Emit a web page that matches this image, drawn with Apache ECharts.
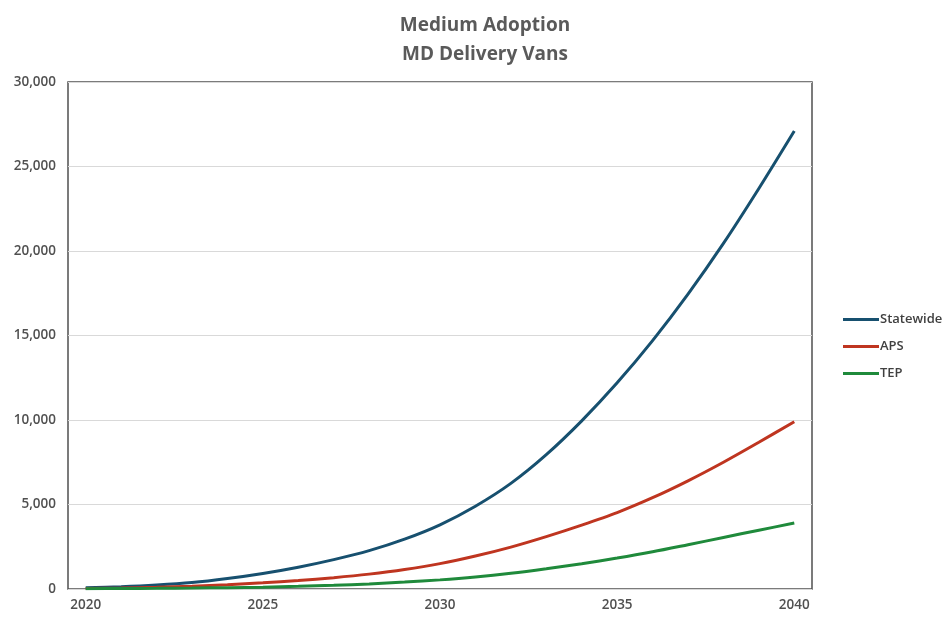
<!DOCTYPE html>
<html>
<head>
<meta charset="utf-8">
<script src="https://cdn.jsdelivr.net/npm/echarts@6/dist/echarts.min.js"></script>
<style>html,body{margin:0;padding:0;background:#fff;}#c{width:950px;height:620px;}</style>
</head>
<body>
<div id="c"></div>
<script>
const years = ['2020','2021','2022','2023','2024','2025','2026','2027','2028','2029','2030','2031','2032','2033','2034','2035','2036','2037','2038','2039','2040'];
const statewide = [70,130,230,380,620,920,1290,1740,2270,2950,3800,4900,6250,7950,9950,12200,14700,17450,20450,23700,27100];
const aps = [30,60,105,170,255,365,500,670,880,1150,1500,1950,2480,3100,3780,4520,5400,6400,7500,8680,9900];
const tep = [20,30,40,55,80,110,160,220,300,410,540,710,930,1200,1500,1830,2200,2620,3050,3480,3900];
const titleLines = ['Medium Adoption', 'MD Delivery Vans'];
const seriesNames = ['Statewide', 'APS', 'TEP'];
const colors = ['#17506f', '#bf3520', '#1f8a3b'];

const chart = echarts.init(document.getElementById('c'), null, {renderer: 'canvas'});
const mk = (name, data, color) => ({
  name, type: 'line', data, smooth: 0.3, symbol: 'none',
  lineStyle: {width: 3, color}, itemStyle: {color}
});
chart.setOption({
  animation: false,
  title: {
    text: titleLines.join('\n'), left: 480, top: 6, textAlign: 'center',
    textStyle: {fontFamily: 'Open Sans', fontSize: 19, fontWeight: 700, color: '#5a5a5a', lineHeight: 29}
  },
  legend: {
    orient: 'vertical', left: 838, top: 308, itemGap: 14,
    icon: 'rect', itemWidth: 36, itemHeight: 3,
    textStyle: {fontFamily: 'Open Sans', fontSize: 13, fontWeight: 600, color: '#404040', padding: [0,0,0,-4]},
    data: seriesNames
  },
  grid: {left: 68, right: 138, top: 82, bottom: 31, show: true, borderColor: '#505050', borderWidth: 1.5, containLabel: false},
  xAxis: {
    type: 'category', data: years, boundaryGap: true,
    axisLine: {show: false}, axisTick: {show: false},
    axisLabel: {interval: 4, margin: 9, fontFamily: 'Open Sans', fontSize: 13.5, fontWeight: 600, color: '#505050'},
    splitLine: {show: false}
  },
  yAxis: {
    type: 'value', min: 0, max: 30000, interval: 5000,
    axisLine: {show: false}, axisTick: {show: false},
    axisLabel: {margin: 12, fontFamily: 'Open Sans', fontSize: 13.5, fontWeight: 600, color: '#505050',
      formatter: v => v.toLocaleString('en-US')},
    splitLine: {lineStyle: {color: '#d9d9d9', width: 1}}
  },
  series: [mk(seriesNames[0], statewide, colors[0]), mk(seriesNames[1], aps, colors[1]), mk(seriesNames[2], tep, colors[2])]
});
</script>
</body>
</html>
